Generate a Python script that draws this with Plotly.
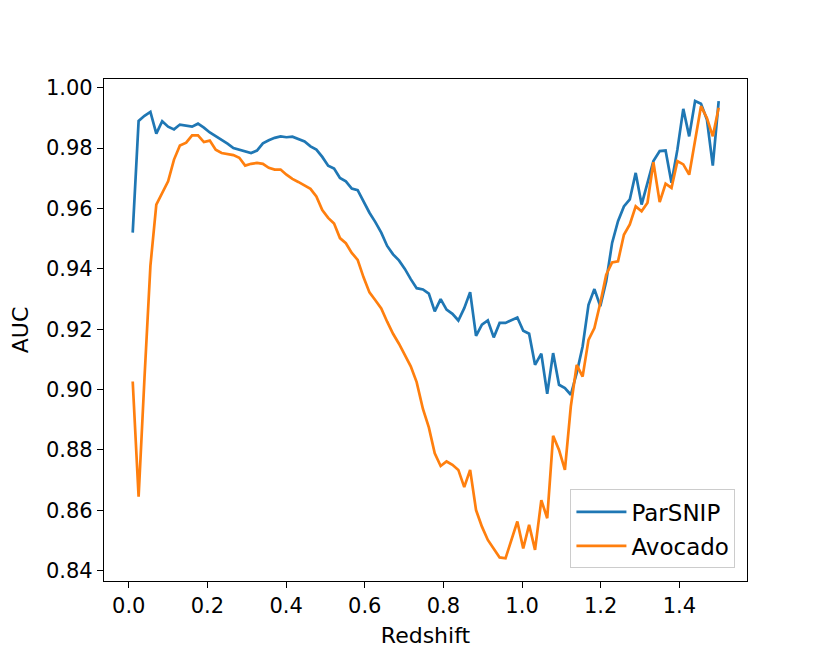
import plotly.graph_objects as go

# redshift bins
redshift = [
    0.010, 0.025, 0.040, 0.055, 0.070, 0.085, 0.100, 0.115, 0.130, 0.146,
    0.161, 0.176, 0.191, 0.206, 0.221, 0.236, 0.251, 0.266, 0.281, 0.296,
    0.311, 0.326, 0.341, 0.356, 0.371, 0.386, 0.401, 0.416, 0.431, 0.447,
    0.462, 0.477, 0.492, 0.507, 0.522, 0.537, 0.552, 0.567, 0.582, 0.597,
    0.612, 0.627, 0.642, 0.657, 0.672, 0.687, 0.702, 0.717, 0.732, 0.748,
    0.763, 0.778, 0.793, 0.808, 0.823, 0.838, 0.853, 0.868, 0.883, 0.898,
    0.913, 0.928, 0.943, 0.958, 0.973, 0.988, 1.003, 1.018, 1.033, 1.049,
    1.064, 1.079, 1.094, 1.109, 1.124, 1.139, 1.154, 1.169, 1.184, 1.199,
    1.214, 1.229, 1.244, 1.259, 1.274, 1.289, 1.304, 1.319, 1.334, 1.350,
    1.365, 1.380, 1.395, 1.410, 1.425, 1.440, 1.455, 1.470, 1.485, 1.500,
]

auc_parsnip = [
    0.9520, 0.9890, 0.9907, 0.9920, 0.9848, 0.9889, 0.9871, 0.9862, 0.9878, 0.9875,
    0.9871, 0.9881, 0.9868, 0.9852, 0.9840, 0.9826, 0.9815, 0.9800, 0.9795, 0.9789,
    0.9784, 0.9792, 0.9816, 0.9826, 0.9834, 0.9839, 0.9836, 0.9838, 0.9830, 0.9822,
    0.9806, 0.9795, 0.9771, 0.9742, 0.9732, 0.9701, 0.9690, 0.9666, 0.9661, 0.9624,
    0.9586, 0.9555, 0.9520, 0.9476, 0.9448, 0.9428, 0.9400, 0.9366, 0.9336, 0.9332,
    0.9318, 0.9259, 0.9300, 0.9265, 0.9251, 0.9229, 0.9270, 0.9323, 0.9178, 0.9215,
    0.9229, 0.9173, 0.9221, 0.9221, 0.9229, 0.9239, 0.9195, 0.9185, 0.9082, 0.9119,
    0.8986, 0.9121, 0.9016, 0.9005, 0.8983, 0.9055, 0.9143, 0.9281, 0.9333, 0.9276,
    0.9359, 0.9486, 0.9558, 0.9607, 0.9630, 0.9718, 0.9613, 0.9690, 0.9757, 0.9790,
    0.9792, 0.9685, 0.9795, 0.9930, 0.9839, 0.9956, 0.9947, 0.9895, 0.9742, 0.9956,
]

auc_avocado = [
    0.9027, 0.8645, 0.9040, 0.9410, 0.9613, 0.9650, 0.9690, 0.9762, 0.9809, 0.9818,
    0.9842, 0.9842, 0.9820, 0.9825, 0.9795, 0.9784, 0.9780, 0.9777, 0.9768, 0.9742,
    0.9748, 0.9751, 0.9748, 0.9735, 0.9729, 0.9729, 0.9712, 0.9698, 0.9688, 0.9677,
    0.9665, 0.9640, 0.9595, 0.9569, 0.9550, 0.9502, 0.9485, 0.9453, 0.9430, 0.9372,
    0.9322, 0.9296, 0.9269, 0.9225, 0.9185, 0.9152, 0.9117, 0.9077, 0.9025, 0.8936,
    0.8875, 0.8789, 0.8747, 0.8762, 0.8751, 0.8734, 0.8677, 0.8734, 0.8601, 0.8546,
    0.8502, 0.8471, 0.8444, 0.8441, 0.8502, 0.8563, 0.8474, 0.8552, 0.8469, 0.8634,
    0.8574, 0.8847, 0.8800, 0.8734, 0.8944, 0.9082, 0.9043, 0.9165, 0.9204, 0.9287,
    0.9381, 0.9421, 0.9425, 0.9513, 0.9547, 0.9607, 0.9591, 0.9619, 0.9753, 0.9621,
    0.9682, 0.9668, 0.9757, 0.9746, 0.9712, 0.9829, 0.9939, 0.9900, 0.9839, 0.9934,
]

x_ticks = [0.0, 0.2, 0.4, 0.6, 0.8, 1.0, 1.2, 1.4]
y_ticks = [0.84, 0.86, 0.88, 0.90, 0.92, 0.94, 0.96, 0.98, 1.00]

FONT = 'DejaVu Sans'

fig = go.Figure()
fig.add_trace(go.Scatter(
    x=redshift, y=auc_parsnip, mode='lines', name='ParSNIP',
    line={'color': '#1f77b4', 'width': 2.7}, legendgroup='a'
))
fig.add_trace(go.Scatter(
    x=redshift, y=auc_avocado, mode='lines', name='Avocado',
    line={'color': '#ff7f0e', 'width': 2.7}, legendgroup='b'
))

axis_style = dict(
    showgrid=False, zeroline=False, showline=True, mirror=True, automargin=False,
    linecolor='black', linewidth=1.3, ticks='outside', ticklen=6,
    tickwidth=1.3, tickcolor='black', tickfont={'size': 21, 'color': 'black'},
)

# page body adds 8px offset, so margins compensate for it
fig.update_layout(
    width=830, height=664,
    margin={'t': 71, 'r': 91, 'b': 91, 'l': 96},
    paper_bgcolor='white', plot_bgcolor='white',
    font={'family': FONT, 'size': 21, 'color': 'black'},
    xaxis=dict(axis_style, range=[-0.063, 1.572], tickvals=x_ticks, tickformat='.1f',
               title={'text': 'Redshift', 'font': {'size': 22}, 'standoff': 10}),
    yaxis=dict(axis_style, range=[0.8366, 1.0029], tickvals=y_ticks, tickformat='.2f',
               title={'text': 'AUC', 'font': {'size': 22}, 'standoff': 22}),
    legend={
        'x': 0.982, 'y': 0.025, 'xanchor': 'right', 'yanchor': 'bottom',
        'bgcolor': 'rgba(255,255,255,0.8)', 'bordercolor': '#cccccc', 'borderwidth': 1,
        'font': {'size': 23}, 'tracegroupgap': 1, 'traceorder': 'grouped',
        'itemwidth': 50,
    },
    showlegend=True,
)

fig.write_html("out.html")
